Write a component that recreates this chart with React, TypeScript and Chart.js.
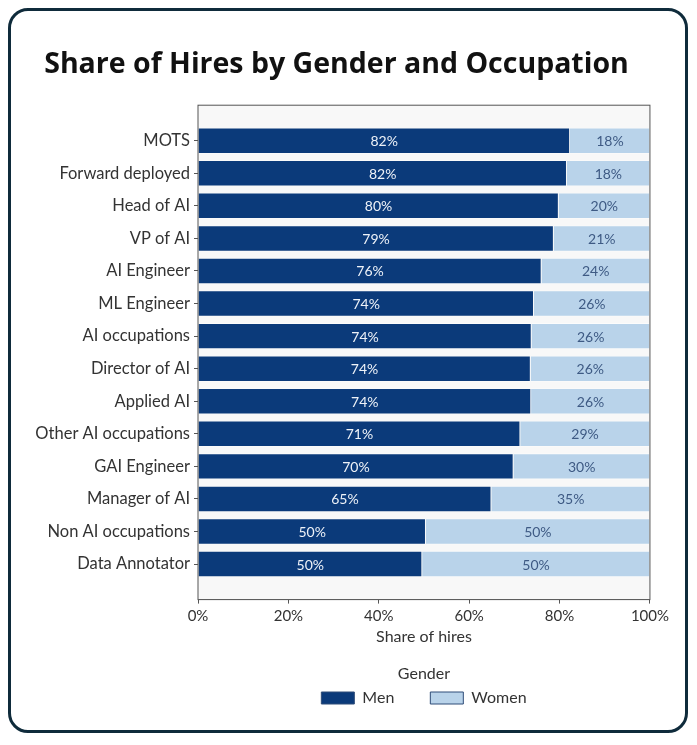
import React, { useEffect, useRef } from 'react';
import { Chart, registerables } from 'chart.js';

Chart.register(...registerables);

const occupations = [
  'MOTS',
  'Forward deployed',
  'Head of AI',
  'VP of AI',
  'AI Engineer',
  'ML Engineer',
  'AI occupations',
  'Director of AI',
  'Applied AI',
  'Other AI occupations',
  'GAI Engineer',
  'Manager of AI',
  'Non AI occupations',
  'Data Annotator',
];

// share of hires in percent
const menShare = [82.3, 81.6, 79.8, 78.7, 76.0, 74.3, 73.8, 73.6, 73.7, 71.3, 69.8, 64.9, 50.4, 49.6];
const womenShare = [17.7, 18.4, 20.2, 21.3, 24.0, 25.7, 26.2, 26.4, 26.3, 28.7, 30.2, 35.1, 49.6, 50.4];

const xTicks = [0, 20, 40, 60, 80, 100];

const MEN = '#0b3a7a';
const WOMEN = '#b9d3ea';
const AXIS = '#555555';

// light plot background + frame, like the source figure
const framePlugin = {
  id: 'frame',
  beforeDatasetsDraw(chart: any) {
    const { ctx, chartArea: a } = chart;
    ctx.save();
    ctx.fillStyle = '#f8f8f8';
    ctx.fillRect(a.left, a.top, a.right - a.left, a.bottom - a.top);
    ctx.restore();
  },
  afterDatasetsDraw(chart: any) {
    const { ctx, chartArea: a } = chart;
    ctx.save();
    ctx.strokeStyle = AXIS;
    ctx.lineWidth = 1;
    ctx.strokeRect(a.left, a.top, a.right - a.left, a.bottom - a.top);
    ctx.restore();
  },
};

const barLabels = {
  id: 'barLabels',
  afterDatasetsDraw(chart: any) {
    const { ctx } = chart;
    ctx.save();
    ctx.font = '14px Lato';
    ctx.textAlign = 'center';
    ctx.textBaseline = 'middle';
    chart.data.datasets.forEach((ds: any, di: number) => {
      const meta = chart.getDatasetMeta(di);
      ctx.fillStyle = di === 0 ? '#eef2f8' : '#3e5a84';
      meta.data.forEach((bar: any, i: number) => {
        const { x, y, base } = bar.getProps(['x', 'y', 'base'], true);
        const v = Math.round(ds.data[i].x);
        ctx.fillText(v + '%', (x + base) / 2, y + 1);
      });
    });
    ctx.restore();
  },
};

function App() {
  const chartRef = useRef<HTMLCanvasElement>(null);
  const chartInstance = useRef<Chart>();

  useEffect(() => {
    if (!chartRef.current) return;
    const ctx = chartRef.current.getContext('2d');
    if (!ctx) return;
    if (chartInstance.current) chartInstance.current.destroy();

    Chart.defaults.font.family = 'Lato';

    chartInstance.current = new Chart(ctx, {
      type: 'bar',
      data: {
        datasets: [
          {
            label: 'Men',
            data: menShare.map((v, i) => ({ x: v, y: i })),
            backgroundColor: MEN,
            borderColor: 'rgba(255,255,255,0.6)',
            borderWidth: 0.8,
            categoryPercentage: 1,
            barPercentage: 0.8,
          },
          {
            label: 'Women',
            data: womenShare.map((v, i) => ({ x: v, y: i })),
            backgroundColor: WOMEN,
            borderColor: 'rgba(255,255,255,0.6)',
            borderWidth: 0.8,
            categoryPercentage: 1,
            barPercentage: 0.8,
          },
        ],
      },
      options: {
        indexAxis: 'y',
        animation: false,
        responsive: false,
        maintainAspectRatio: false,
        layout: { padding: { left: 0, right: 0, bottom: 0, top: 0 } },
        scales: {
          x: {
            type: 'linear',
            stacked: true,
            min: 0,
            max: 100,
            afterBuildTicks: (scale: any) => {
              scale.ticks = xTicks.map((value) => ({ value }));
            },
            ticks: {
              callback: (v: any) => v + '%',
              color: '#333',
              font: { size: 15 },
              padding: 4,
              maxRotation: 0,
            },
            grid: { drawOnChartArea: false, tickLength: 4, color: AXIS },
            border: { color: AXIS },
            title: {
              display: true,
              text: 'Share of hires',
              color: '#333',
              font: { size: 16 },
              padding: { top: -2, bottom: 0 },
            },
          },
          y: {
            type: 'linear',
            stacked: true,
            reverse: true,
            offset: false,
            min: -1.09,
            max: 14.09,
            afterBuildTicks: (scale: any) => {
              scale.ticks = occupations.map((_, i) => ({ value: i }));
            },
            afterFit: (scale: any) => {
              scale.width = 198;
            },
            ticks: {
              callback: (v: any) => occupations[v] ?? '',
              autoSkip: false,
              color: '#333',
              font: { size: 16.5 },
              padding: 4,
            },
            grid: { offset: false, drawOnChartArea: false, tickLength: 4, color: AXIS },
            border: { color: AXIS },
          },
        },
        plugins: {
          title: {
            display: true,
            text: 'Share of Hires by Gender and Occupation',
            color: '#111',
            font: { family: 'Open Sans', size: 28.5, weight: 'bold' },
            padding: { top: 37, bottom: 23 },
          },
          legend: {
            position: 'bottom',
            fullSize: false,
            title: {
              display: true,
              text: 'Gender',
              color: '#333',
              font: { size: 16 },
              padding: { top: 19, bottom: -31 },
            },
            labels: {
              boxWidth: 33,
              boxHeight: 12,
              color: '#333',
              font: { size: 16 },
              padding: 36,
              generateLabels: (chart: any) =>
                chart.data.datasets.map((ds: any, i: number) => ({
                  text: ds.label,
                  fillStyle: ds.backgroundColor,
                  strokeStyle: '#2f4c78',
                  lineWidth: 1,
                  fontColor: '#333',
                  datasetIndex: i,
                  hidden: false,
                })),
            },
          },
          tooltip: { enabled: false },
        },
      },
      plugins: [framePlugin, barLabels],
    });

    return () => {
      if (chartInstance.current) {
        chartInstance.current.destroy();
        chartInstance.current = undefined;
      }
    };
  }, []);

  return (
    <div style={{ position: 'relative', width: 680, height: 725 }}>
      <div
        style={{
          position: 'absolute',
          inset: 0,
          border: '3px solid #0f2b3b',
          borderRadius: 20,
          boxSizing: 'border-box',
          background: '#fff',
        }}
      />
      <canvas
        ref={chartRef}
        width={673}
        height={705}
        style={{ position: 'absolute', left: -8, top: 3, width: 673, height: 705 }}
      ></canvas>
    </div>
  );
}

export default App;
